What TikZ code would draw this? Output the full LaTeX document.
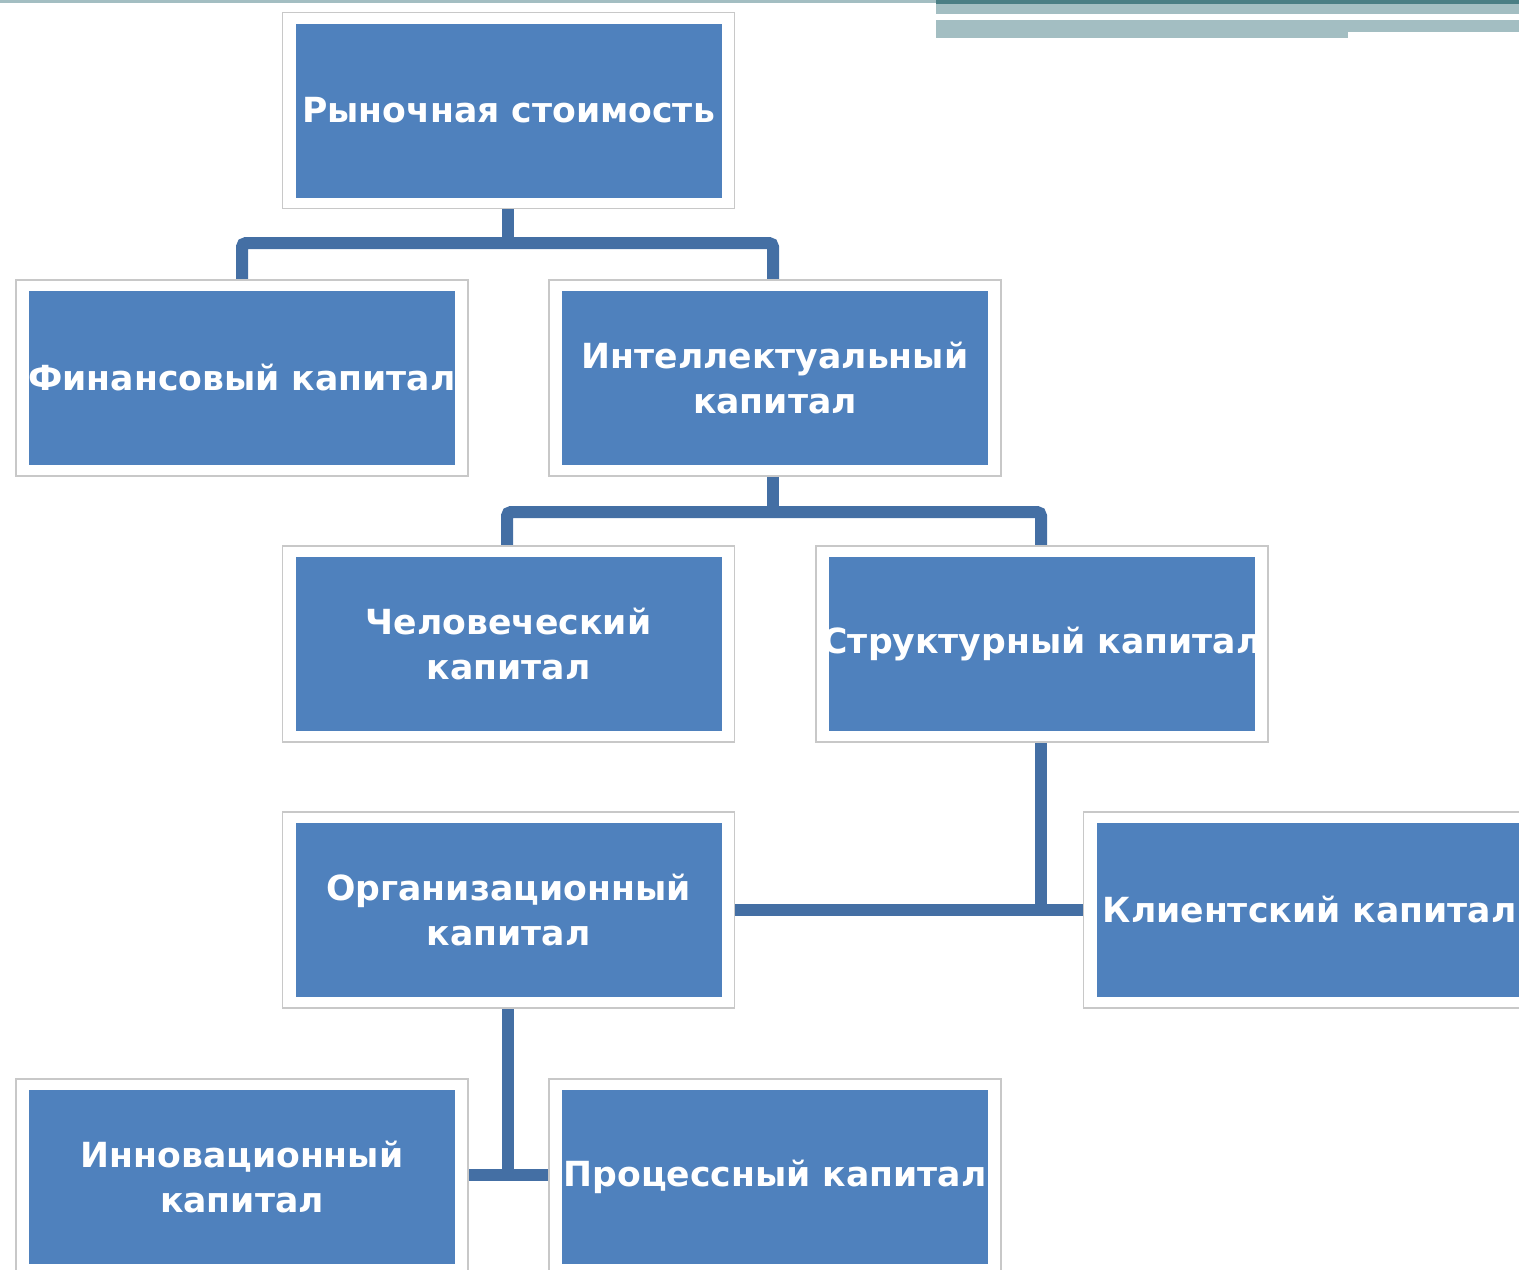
\documentclass[tikz,border=0pt]{standalone}
\usepackage{fontspec}
\setmainfont{DejaVu Sans}
\definecolor{boxblue}{RGB}{79,129,189}
\definecolor{linkblue}{RGB}{68,111,164}
\definecolor{barlight}{RGB}{163,190,194}
\definecolor{bardark}{RGB}{74,126,132}
\definecolor{framegray}{RGB}{200,200,200}
\tikzset{
  outerbox/.style={draw=framegray, line width=0.8pt, fill=white, minimum width=226pt, minimum height=98pt, inner sep=0pt},
  innerbox/.style={fill=boxblue, minimum width=213pt, minimum height=87pt, inner sep=0pt},
  boxlabel/.style={inner sep=0pt, text=white, align=center,
    font=\fontsize{17.3}{22.5}\selectfont\bfseries},
  link/.style={draw=linkblue, line width=6pt, rounded corners=2pt}
}
\newcommand\capbox[4]{%
  \node[outerbox] (#1) at (#2,#3) {};
  \node[innerbox] (#1i) at (#1) {};
  \node[boxlabel] (#1t) at (#1) {#4};
}
\begin{document}
\begin{tikzpicture}[x=0.5pt,y=-0.5pt]
\useasboundingbox (0,0) rectangle (1519,1269);
\clip (0,0) rectangle (1519,1269);
% top bars
\fill[barlight] (0,0) rectangle (936,3);
\fill[bardark] (936,0) rectangle (1519,4);
\fill[barlight] (936,4) rectangle (1519,14);
\fill[barlight] (936,20) rectangle (1519,32);
\fill[barlight] (936,32) rectangle (1348,38);
% junction coordinates
\coordinate (j1) at (508,243);
\coordinate (j2) at (773,512);
\coordinate (j3) at (1041,910);
\coordinate (j4) at (508,1175);
% links
\draw[link] (508,200) -- (j1);
\draw[link] (242,285) -- (242,243) -- (773,243) -- (773,285);
\draw[link] (773,470) -- (j2);
\draw[link] (507,550) -- (507,512) -- (1041,512) -- (1041,550);
\draw[link] (1041,738) -- (j3);
\draw[link] (730,910) -- (1088,910);
\draw[link] (508,1000) -- (j4);
\draw[link] (462,1175) -- (555,1175);
% boxes
\capbox{market}{508.5}{110.5}{Рыночная стоимость}
\capbox{fin}{242}{378}{Финансовый капитал}
\capbox{intel}{775}{378}{Интеллектуальный\\капитал}
\capbox{human}{508.5}{644}{Человеческий\\капитал}
\capbox{struct}{1042}{644}{Структурный капитал}
\capbox{org}{508.5}{910}{Организационный\\капитал}
\capbox{client}{1309.5}{910}{Клиентский капитал}
\capbox{innov}{242}{1177}{Инновационный\\капитал}
\capbox{proc}{775}{1177}{Процессный капитал}
\end{tikzpicture}
\end{document}
